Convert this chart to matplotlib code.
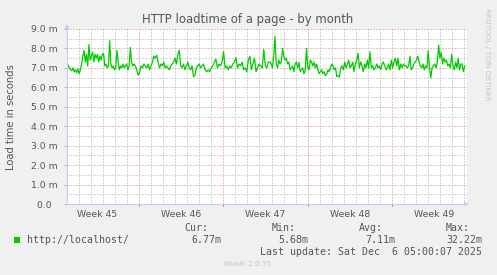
import matplotlib

matplotlib.use("Agg")
import matplotlib.pyplot as plt
import numpy as np

# load time in milli-seconds in chunks (days since Nov 3 2025)
chunk_days = [(0.0, 5.57), (5.57, 11.22), (11.22, 16.87), (16.87, 22.53), (22.53, 28.18), (28.18, 33.17)]

load_a = [7.3, 7.1, 7.0, 6.9, 6.85, 7.0, 6.8, 6.9, 6.75, 6.95, 6.7, 6.9, 7.2, 7.6, 7.9,
          7.3, 7.7, 7.1, 8.2, 7.4, 7.6, 7.8, 7.3, 7.7, 7.5, 7.7, 7.3, 7.6, 7.4,
          7.7, 7.75, 7.1, 7.2, 7.0, 7.1, 8.4, 7.2, 7.0, 7.1, 6.9, 7.0, 7.9, 7.3, 6.9,
          7.1, 7.0, 7.2, 7.0, 7.1, 7.2, 6.9, 7.1, 8.05, 7.3, 7.1]
load_b = [7.2, 7.1, 6.85, 6.62, 6.8, 7.1, 7.0, 7.2, 7.1, 7.0, 7.2, 6.9, 7.1, 7.3,
          7.6, 7.5, 7.65, 7.3, 7.0, 7.2, 7.1, 7.3, 7.0, 7.1, 7.0, 6.9, 7.1, 7.2, 7.3,
          7.5, 7.2, 7.7, 7.9, 7.1, 7.0, 7.2, 6.9, 7.1, 7.3, 7.0, 6.9, 7.1, 6.55,
          6.6, 7.0, 7.1, 7.2, 7.0]
load_c = [7.1, 7.2, 6.9, 6.8, 6.9, 6.8, 7.0, 7.1, 7.3, 7.45, 7.0, 7.2, 7.1, 7.3,
          7.83, 7.0, 7.1, 6.9, 7.1, 7.0, 7.2, 7.3, 7.53, 7.0, 7.2, 7.1, 7.3, 6.9, 7.0, 6.8,
          7.4, 7.6, 6.9, 7.2, 7.5, 6.8, 7.0, 7.2, 7.1, 7.0, 7.95, 7.1, 7.0, 7.3]
load_d = [7.3, 7.2, 7.0, 7.6, 8.62, 7.2, 7.0, 7.4, 7.2, 7.3, 8.0, 7.6, 7.4,
          7.5, 7.2, 7.3, 6.9, 7.0, 7.1, 6.8, 7.2, 7.3, 7.0, 7.28, 6.8, 6.9, 7.0, 6.7, 6.9,
          8.0, 7.0, 6.9, 7.4, 7.3, 7.1, 7.3, 7.0, 7.2, 6.9, 6.7, 6.8, 6.9,
          6.7, 6.8, 6.6, 6.7, 6.9, 6.8, 7.0, 7.2, 7.1, 6.9, 7.0, 6.55]
load_e = [6.6, 6.53, 7.0, 7.1, 6.9, 7.3, 7.0, 7.2, 7.4, 7.0, 7.1, 7.3, 6.8, 7.2, 7.4,
          7.75, 7.0, 7.3, 7.1, 6.8, 7.2, 7.0, 7.4, 7.0, 7.83, 7.0, 7.1, 6.9, 7.0, 7.2,
          7.0, 7.1, 6.9, 7.2, 7.3, 7.1, 6.9, 7.0, 7.2, 6.9, 7.4, 7.0, 7.3, 7.5,
          7.1, 7.5, 6.9, 7.2, 7.0, 7.2, 7.1]
load_f = [7.1, 7.0, 7.1, 7.6, 6.9, 7.0, 7.2, 7.3, 7.4, 7.6, 7.3, 7.1, 7.0, 7.2, 6.9, 7.1,
          7.0, 7.87, 7.0, 6.5, 7.0, 7.1, 7.2, 7.0, 7.3, 8.17, 7.5, 7.8, 7.2, 7.5, 7.3,
          7.4, 7.1, 7.2, 7.0, 7.7, 7.1, 6.9, 7.3, 7.0, 7.5, 6.9, 7.2, 7.2, 6.8, 7.1]

week_labels = ["Week 45", "Week 46", "Week 47", "Week 48", "Week 49"]
week_centers = [2.5, 9.5, 16.5, 23.5, 30.5]
week_bounds = [6, 13, 20, 27]

y_ticks = [0, 1, 2, 3, 4, 5, 6, 7, 8, 9]
y_labels = ["0.0  ", "1.0 m", "2.0 m", "3.0 m", "4.0 m", "5.0 m", "6.0 m", "7.0 m", "8.0 m", "9.0 m"]

legend_name = "http://localhost/"
stat_names = ["Cur:", "Min:", "Avg:", "Max:"]
stat_values = ["6.77m", "5.68m", "7.11m", "32.22m"]
last_update = "Last update: Sat Dec  6 05:00:07 2025"

GREEN = "#00CC00"
TEXT = "#555555"
AXIS = "#C8CCF4"
BG = "#F0F0F0"
MGRID = "#DD8080"
GRID = "#AAAAAA"

fig = plt.figure(figsize=(4.97, 2.75), dpi=100, facecolor=BG)
W, H = 497.0, 275.0
ax = fig.add_axes([67 / W, 1 - 204 / H, 400 / W, 175 / H])
ax.set_facecolor("white")

# data
xs, ys = [], []
for (d0, d1), vals in zip(chunk_days, [load_a, load_b, load_c, load_d, load_e, load_f]):
    xs.extend(np.linspace(d0, d1, len(vals), endpoint=False))
    ys.extend(vals)
ax.plot(xs, ys, color=GREEN, lw=0.9, zorder=5)

ax.set_xlim(0, 33.25)
ax.set_ylim(0, 9)

# grid: rrdtool style dots
dot = (0, (1, 2))
grid_kw = dict(lw=0.72, ls=dot)
for d in range(1, 34):
    if d not in week_bounds:
        ax.axvline(d, color=GRID, zorder=1, **grid_kw)
for v in np.arange(0.5, 9, 1.0):
    ax.axhline(v, color=GRID, zorder=1, **grid_kw)
for v in y_ticks[1:]:
    ax.axhline(v, color=MGRID, zorder=1.5, **grid_kw)
for b in week_bounds:
    ax.axvline(b, color=MGRID, zorder=1.5, **grid_kw)
    ax.plot([b, b], [0, -0.12], color=MGRID, lw=0.72, clip_on=False)

ax.set_yticks(y_ticks, y_labels)
ax.set_xticks(week_centers, week_labels)
ax.tick_params(axis="x", which="both", length=0, pad=4, labelsize=6.7, labelcolor=TEXT)
ax.tick_params(axis="y", which="major", length=2, color="#BBBBBB", pad=5, labelsize=6.7, labelcolor=TEXT)

for s in ["top", "right"]:
    ax.spines[s].set_visible(False)
for s in ["left", "bottom"]:
    ax.spines[s].set_color(AXIS)
    ax.spines[s].set_linewidth(0.8)
    ax.spines[s].set_zorder(6)
ax.annotate("", xy=(0, 1.045), xytext=(0, 0.99), xycoords="axes fraction",
            arrowprops=dict(arrowstyle="-|>", color=AXIS, lw=0.8, mutation_scale=6))
ax.annotate("", xy=(1.012, 0), xytext=(0.99, 0), xycoords="axes fraction",
            arrowprops=dict(arrowstyle="-|>", color=AXIS, lw=0.8, mutation_scale=6))

# titles
fig.text(248 / W, 1 - 19.5 / H, "HTTP loadtime of a page - by month", ha="center", va="center",
         fontsize=8.4, color=TEXT)
fig.text(11 / W, 1 - 117 / H, "Load time in seconds", rotation=90, ha="center", va="center",
         fontsize=7.2, color=TEXT)
fig.text(487 / W, 1 - 54 / H, "RRDTOOL / TOBI OETIKER", rotation=270, ha="center", va="center",
         fontsize=5.2, color="#C4C4C4")

# legend
mono = dict(family="DejaVu Sans Mono", fontsize=7.1, color=TEXT)
fig.patches.append(plt.Rectangle((14 / W, 1 - 243 / H), 6 / W, 6 / H, transform=fig.transFigure,
                                 facecolor=GREEN, edgecolor="none"))
fig.text(27 / W, 1 - 240 / H, legend_name, ha="left", va="center", **mono)
head_x = [208, 295.3, 383.3, 470]
val_x = [221, 308.3, 395.7, 482.3]
for name, val, hx, vx in zip(stat_names, stat_values, head_x, val_x):
    fig.text(hx / W, 1 - 227.7 / H, name, ha="right", va="center", **mono)
    fig.text(vx / W, 1 - 240 / H, val, ha="right", va="center", **mono)
fig.text(482.3 / W, 1 - 252 / H, last_update, ha="right", va="center", **mono)
fig.text(248 / W, 1 - 264.5 / H, "Munin 2.0.75", ha="center", va="center", fontsize=5.2, color="#C4C4C4")

fig.savefig("out.png", dpi=100, facecolor=BG)
